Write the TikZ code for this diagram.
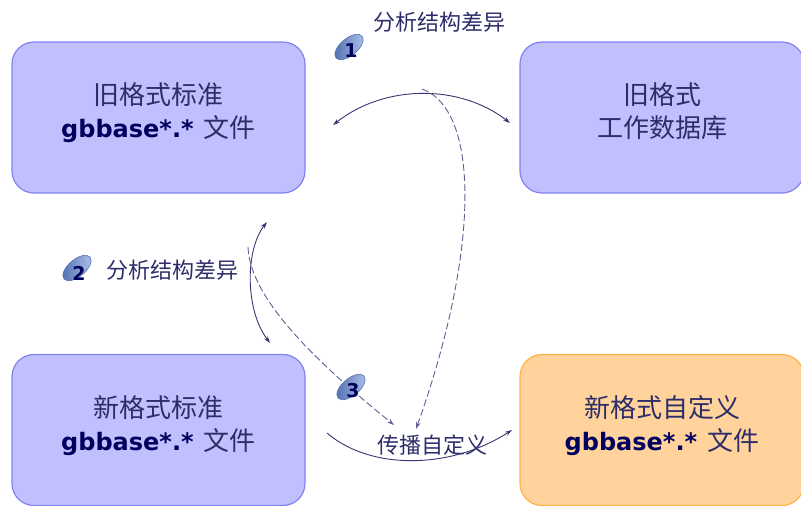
\documentclass[tikz,border=0pt]{standalone}
\usepackage{fontspec}
\newfontfamily\cjk{Noto Sans CJK SC}
\newfontfamily\gbfont{DejaVu Sans}
\usetikzlibrary{shapes.geometric,arrows.meta}
\definecolor{boxfill}{RGB}{192,192,255}
\definecolor{boxline}{RGB}{130,130,240}
\definecolor{custfill}{RGB}{255,211,155}
\definecolor{custline}{RGB}{255,178,70}
\definecolor{cjknavy}{RGB}{45,45,105}
\definecolor{gbnavy}{RGB}{0,0,95}
\definecolor{linkc}{RGB}{55,55,115}
\definecolor{dashc}{RGB}{95,95,150}
\definecolor{badgedark}{RGB}{80,110,175}
\definecolor{badgelight}{RGB}{175,195,235}
\def\gbline{{\gbfont\bfseries\fontsize{24}{33}\selectfont\color{gbnavy}gbbase*.*}\, 文件}

\begin{document}
\begin{tikzpicture}[x=1pt, y=-1pt,
	box/.style={draw=boxline, fill=boxfill, line width=1.2pt, rounded corners=22pt,
		minimum width=293pt, minimum height=151pt, align=center, text=cjknavy,
		text depth=14pt, font=\cjk\fontsize{26}{33}\selectfont},
	lbl/.style={text=cjknavy, font=\cjk\fontsize{22}{26}\selectfont},
	badge/.style={ellipse, draw=badgedark, line width=0.6pt, left color=badgedark, right color=badgelight,
		minimum width=34pt, minimum height=17pt, inner sep=0pt, rotate=40},
	num/.style={text=gbnavy, font=\gbfont\bfseries\fontsize{19}{19}\selectfont, inner sep=0pt},
	link/.style={draw=linkc, line width=0.9pt},
	dlink/.style={draw=dashc, line width=0.9pt, dash pattern=on 7pt off 3pt},
	>={Stealth[length=7pt,width=4.5pt]}]
	%%%%% START %%%%%
	
	\useasboundingbox (0,0) rectangle (801,506);
	
	\node[box] (oldstd) at (158.5,117.5) {旧格式标准\\\gbline};
	\node[box, minimum width=284pt] (olddb) at (662,117.5) {旧格式\\工作数据库};
	\node[box] (newstd) at (158.5,430) {新格式标准\\\gbline};
	\node[box, fill=custfill, draw=custline, minimum width=284pt] (newcust) at (662,430) {新格式自定义\\\gbline};
	
	\node[lbl] (lbl1) at (439,22) {分析结构差异};
	\node[lbl] (lbl2) at (172,270) {分析结构差异};
	\node[lbl] (lbl3) at (432,445) {传播自定义};
	
	\coordinate (a1s) at (333,125);
	\coordinate (a1e) at (510,123);
	\coordinate (d1s) at (422,89);
	\coordinate (d1e) at (416,429);
	\coordinate (a2s) at (267,222);
	\coordinate (a2e) at (270,343);
	\coordinate (d2s) at (248,247);
	\coordinate (d2e) at (394,425);
	\coordinate (a3s) at (327,433);
	\coordinate (a3e) at (512,430);
	
	\draw[link, <->] (a1s) .. controls (385,84) and (460,84) .. (a1e);
	\draw[dlink, ->] (d1s) .. controls (480,110) and (480,250) .. (d1e);
	\draw[link, <->] (a2s) .. controls (245,250) and (245,310) .. (a2e);
	\draw[dlink, ->] (d2s) .. controls (250,300) and (320,365) .. (d2e);
	\draw[link, ->] (a3s) .. controls (370,470) and (450,470) .. (a3e);
	
	\node[badge] (b1) at (349,47) {};
	\node[num] (n1) at (351,51) {1};
	\node[badge] (b2) at (77,268) {};
	\node[num] (n2) at (79,273) {2};
	\node[badge] (b3) at (351,387) {};
	\node[num] (n3) at (353,391) {3};
	
	%%%%% END %%%%%
\end{tikzpicture}
\end{document}
